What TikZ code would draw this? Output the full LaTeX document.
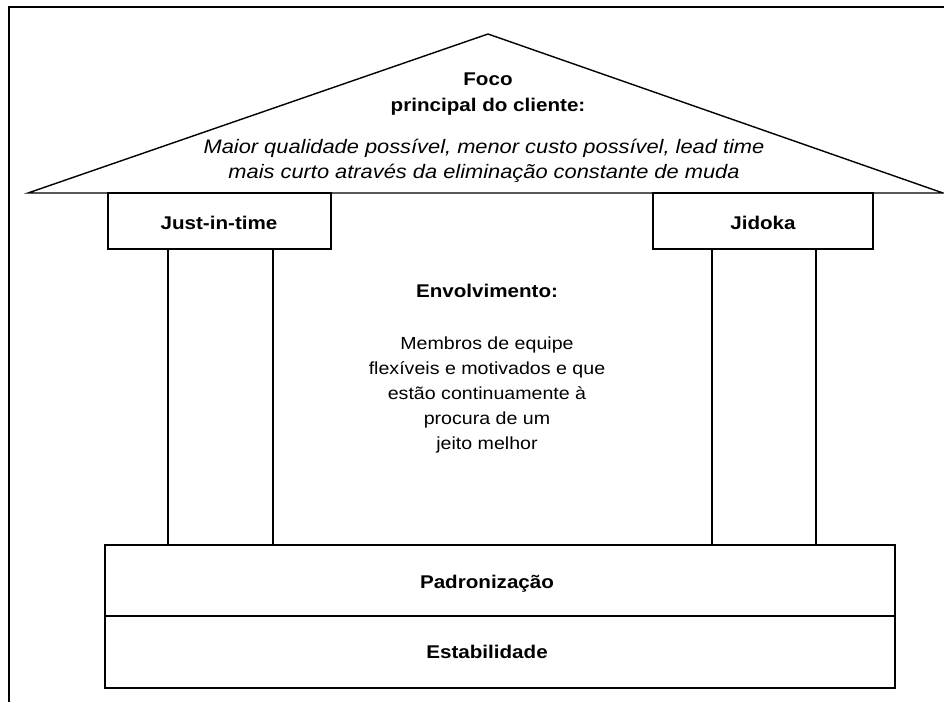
\documentclass[tikz,border=0pt]{standalone}
\usepackage{fontspec}
\setmainfont{Liberation Sans}[FakeStretch=1.12]
\begin{document}
\begin{tikzpicture}[x=1pt,y=-1pt,
  outl/.style={draw=black,line width=1.4pt},
  frame/.style={draw=black,line width=2.6pt},
  lbl/.style={inner sep=0pt,align=center,anchor=base,font=\fontsize{17.5}{24.8}\selectfont},
  blbl/.style={lbl,font=\fontsize{18.4}{26}\selectfont\bfseries},
  ilbl/.style={lbl,font=\fontsize{19.5}{25}\selectfont\itshape}]
\useasboundingbox (0,0) rectangle (944,702);
% frame
\draw[frame] (9,702) -- (9,7) -- (944,7);
% roof
\coordinate (rl) at (28,193);
\coordinate (ra) at (488,34);
\coordinate (rr) at (943,193);
\draw[outl,line join=miter] (rl) -- (ra) -- (rr) -- cycle;
% capitals
\draw[outl] (108,193) rectangle (331,249);
\draw[outl] (653,193) rectangle (873,249);
% columns
\draw[outl] (168,249) -- (168,545);
\draw[outl] (273,249) -- (273,545);
\draw[outl] (712,249) -- (712,545);
\draw[outl] (816,249) -- (816,545);
% base
\draw[outl] (105,545) rectangle (895,688);
\draw[outl] (105,616) -- (895,616);
% texts
\node[blbl] (foco) at (488,111) {Foco\\principal do cliente:};
\node[ilbl] (goal) at (484,178) {Maior qualidade possível, menor custo possível, lead time\\mais curto através da eliminação constante de muda};
\node[blbl] (jit) at (219,229) {Just-in-time};
\node[blbl] (jid) at (763,229) {Jidoka};
\node[blbl] (env) at (487,297) {Envolvimento:};
\node[lbl] (memb) at (487,449) {Membros de equipe\\flexíveis e motivados e que\\estão continuamente à\\procura de um\\jeito melhor};
\node[blbl] (pad) at (487,588) {Padronização};
\node[blbl] (est) at (487,658) {Estabilidade};
\end{tikzpicture}
\end{document}
